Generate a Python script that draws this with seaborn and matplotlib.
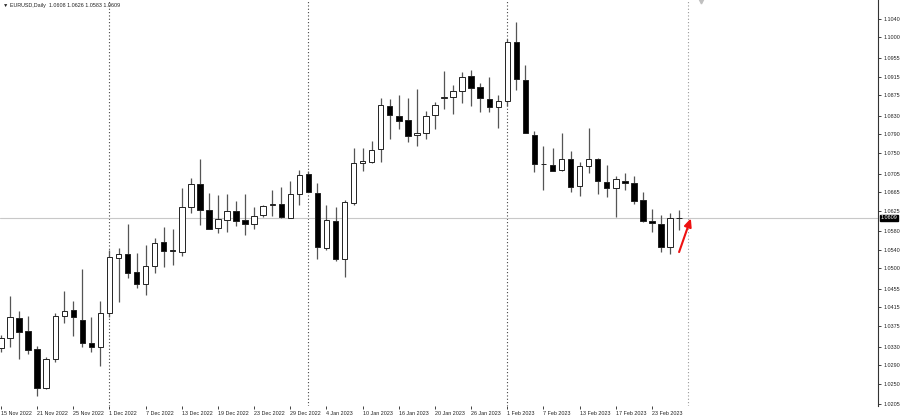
import matplotlib
matplotlib.use("Agg")
import matplotlib.pyplot as plt
import matplotlib.transforms as mtransforms
import seaborn as sns
import numpy as np
import pandas as pd

# ---- data (EURUSD daily, 15 Nov 2022 .. 28 Feb 2023) ----
opens = [1.0327, 1.0348, 1.0393, 1.0363, 1.0324, 1.0240, 1.0303, 1.0396, 1.0409, 1.0387,
         1.0339, 1.0330, 1.0404, 1.0523, 1.0531, 1.0491, 1.0466, 1.0504, 1.0556, 1.0539,
         1.0536, 1.0632, 1.0683, 1.0626, 1.0588, 1.0604, 1.0624, 1.0605, 1.0596, 1.0615,
         1.0636, 1.0639, 1.0609, 1.0661, 1.0704, 1.0664, 1.0544, 1.0603, 1.0521, 1.0642,
         1.0729, 1.0731, 1.0758, 1.0851, 1.0830, 1.0821, 1.0788, 1.0792, 1.0831, 1.0869,
         1.0872, 1.0885, 1.0916, 1.0892, 1.0867, 1.0849, 1.0863, 1.0990, 1.0908, 1.0789,
         1.0726, 1.0724, 1.0712, 1.0737, 1.0679, 1.0722, 1.0737, 1.0687, 1.0673, 1.0688,
         1.0684, 1.0648, 1.0603, 1.0596, 1.0547, 1.0608]
highs = [1.0355, 1.0440, 1.0407, 1.0396, 1.0331, 1.0308, 1.0404, 1.0450, 1.0429, 1.0498,
         1.0395, 1.0429, 1.0539, 1.0544, 1.0596, 1.0532, 1.0550, 1.0565, 1.0589, 1.0584,
         1.0673, 1.0695, 1.0737, 1.0662, 1.0659, 1.0660, 1.0646, 1.0661, 1.0633, 1.0636,
         1.0669, 1.0675, 1.0690, 1.0713, 1.0711, 1.0684, 1.0636, 1.0632, 1.0648, 1.0761,
         1.0760, 1.0776, 1.0868, 1.0867, 1.0875, 1.0868, 1.0888, 1.0841, 1.0861, 1.0928,
         1.0898, 1.0926, 1.0929, 1.0902, 1.0914, 1.0875, 1.0996, 1.1033, 1.0940, 1.0798,
         1.0765, 1.0761, 1.0792, 1.0753, 1.0730, 1.0804, 1.0739, 1.0723, 1.0700, 1.0706,
         1.0699, 1.0665, 1.0628, 1.0615, 1.0620, 1.0626]
lows = [1.0318, 1.0330, 1.0303, 1.0314, 1.0222, 1.0238, 1.0297, 1.0381, 1.0354, 1.0330,
        1.0319, 1.0289, 1.0395, 1.0427, 1.0479, 1.0458, 1.0443, 1.0490, 1.0502, 1.0506,
        1.0527, 1.0619, 1.0593, 1.0584, 1.0576, 1.0579, 1.0591, 1.0573, 1.0586, 1.0612,
        1.0613, 1.0608, 1.0608, 1.0637, 1.0665, 1.0520, 1.0539, 1.0515, 1.0482, 1.0638,
        1.0711, 1.0727, 1.0731, 1.0780, 1.0802, 1.0774, 1.0765, 1.0781, 1.0802, 1.0846,
        1.0834, 1.0857, 1.0851, 1.0838, 1.0839, 1.0803, 1.0851, 1.0886, 1.0792, 1.0709,
        1.0669, 1.0710, 1.0711, 1.0666, 1.0657, 1.0707, 1.0661, 1.0655, 1.0612, 1.0669,
        1.0639, 1.0601, 1.0578, 1.0536, 1.0531, 1.0583]
closes = [1.0349, 1.0394, 1.0361, 1.0323, 1.0240, 1.0303, 1.0396, 1.0408, 1.0395, 1.0339,
          1.0329, 1.0404, 1.0524, 1.0531, 1.0489, 1.0465, 1.0504, 1.0554, 1.0537, 1.0538,
          1.0632, 1.0682, 1.0626, 1.0585, 1.0607, 1.0623, 1.0603, 1.0596, 1.0613, 1.0635,
          1.0639, 1.0612, 1.0661, 1.0701, 1.0666, 1.0547, 1.0604, 1.0520, 1.0644, 1.0727,
          1.0732, 1.0756, 1.0853, 1.0832, 1.0820, 1.0786, 1.0792, 1.0830, 1.0854, 1.0872,
          1.0885, 1.0915, 1.0890, 1.0868, 1.0850, 1.0862, 1.0990, 1.0909, 1.0794, 1.0725,
          1.0725, 1.0711, 1.0737, 1.0677, 1.0721, 1.0737, 1.0688, 1.0673, 1.0694, 1.0684,
          1.0646, 1.0603, 1.0597, 1.0545, 1.0608, 1.0609]

date_labels = ["15 Nov 2022", "21 Nov 2022", "25 Nov 2022", "1 Dec 2022", "7 Dec 2022",
               "13 Dec 2022", "19 Dec 2022", "23 Dec 2022", "29 Dec 2022", "4 Jan 2023",
               "10 Jan 2023", "16 Jan 2023", "20 Jan 2023", "26 Jan 2023", "1 Feb 2023",
               "7 Feb 2023", "13 Feb 2023", "17 Feb 2023", "23 Feb 2023"]
date_label_bars = [0, 4, 8, 12, 16, 20, 24, 28, 32, 36, 40, 44, 48, 52, 56, 60, 64, 68, 72]
month_separator_bars = [12, 34, 56, 76]

price_ticks = [1.1040, 1.1000, 1.0955, 1.0915, 1.0875, 1.0830, 1.0790, 1.0750, 1.0705,
               1.0665, 1.0625, 1.0580, 1.0540, 1.0500, 1.0455, 1.0415, 1.0375, 1.0330,
               1.0290, 1.0250, 1.0205]
price_tick_labels = ["1.1040", "1.1000", "1.0955", "1.0915", "1.0875", "1.0830", "1.0790",
                     "1.0750", "1.0705", "1.0665", "1.0625", "1.0580", "1.0540", "1.0500",
                     "1.0455", "1.0415", "1.0375", "1.0330", "1.0290", "1.0250", "1.0205"]
bid_price = 1.0609
header = "\u25bc EURUSD,Daily  1.0608 1.0626 1.0583 1.0609"

df = pd.DataFrame({"open": opens, "high": highs, "low": lows, "close": closes})
df["bar"] = np.arange(len(df))
df["bull"] = df["close"] >= df["open"]

sns.set_theme(style="white")
FONT = ["Liberation Sans", "DejaVu Sans"]
plt.rcParams["font.family"] = FONT

W, H = 900, 419
fig = plt.figure(figsize=(W / 100, H / 100), dpi=100)
fig.patch.set_facecolor("white")
ax = fig.add_axes([0, 13 / H, 878 / W, 406 / H])
ax.set_facecolor("white")

# wicks
ax.vlines(df["bar"], df["low"], df["high"], color="#555555", linewidth=0.9, zorder=2)
# bodies
body_w = 0.6
bottoms = np.minimum(df["open"], df["close"])
heights = np.maximum(np.abs(df["close"] - df["open"]), 0.00003)
face = np.where(df["bull"], "white", "black")
ax.bar(df["bar"], heights, bottom=bottoms, width=body_w, color=face,
       edgecolor="#222222", linewidth=0.7, zorder=3)

# month separators
for i, b in enumerate(month_separator_bars):
    ax.axvline(b, color="#444444" if i < 3 else "#9a9a9a", linestyle=(0, (1, 2)),
               linewidth=0.8, zorder=1)

# bid line
ax.axhline(bid_price, color="#c8c8c8", linewidth=0.8, zorder=1)

ax.set_xlim(-0.11, 97.0)
ax.set_ylim(1.02014, 1.10812)

for s in ["left", "top", "bottom"]:
    ax.spines[s].set_visible(False)
ax.spines["right"].set_color("#333333")
ax.spines["right"].set_linewidth(0.8)

ax.yaxis.tick_right()
ax.set_yticks(price_ticks)
ax.set_yticklabels(price_tick_labels)
ax.tick_params(axis="y", direction="out", length=2.5, width=0.6, pad=1.5,
               labelsize=3.9, colors="#222222", right=True, left=False)
ax.set_xticks(date_label_bars)
ax.set_xticklabels(date_labels, ha="left")
ax.tick_params(axis="x", direction="out", length=2, width=0.6, pad=1.5,
               labelsize=3.9, colors="#222222", bottom=True)
for lab in ax.get_xticklabels():
    lab.set_horizontalalignment("left")
ax.grid(False)

# bid label on the price scale
trans = mtransforms.blended_transform_factory(ax.transAxes, ax.transData)
ax.text(1.003, bid_price, "1.0609", transform=trans, ha="left", va="center",
        fontsize=3.9, color="white", zorder=10, clip_on=False,
        bbox=dict(boxstyle="square,pad=0.15", facecolor="black", edgecolor="black"))

# header
ax.text(0.003, 0.992, header, transform=ax.transAxes, ha="left", va="top",
        fontsize=3.9, color="#222222")

# chart-shift marker at the top
ax.plot([month_separator_bars[-1] + 1.4], [0.997], transform=mtransforms.blended_transform_factory(ax.transData, ax.transAxes),
        marker="v", markersize=3.5, color="#c0c0c0", clip_on=False, zorder=5)

# red arrow next to the last candle
last = len(df) - 1
ax.annotate("", xy=(last + 1.3, closes[-1] - 0.0001), xytext=(last, lows[-1] - 0.0048),
            arrowprops=dict(arrowstyle="-|>,head_width=0.18,head_length=0.4",
                            color="#ee1111", lw=1.5, shrinkA=0, shrinkB=0))

fig.savefig("out.png", dpi=100, facecolor="white")
